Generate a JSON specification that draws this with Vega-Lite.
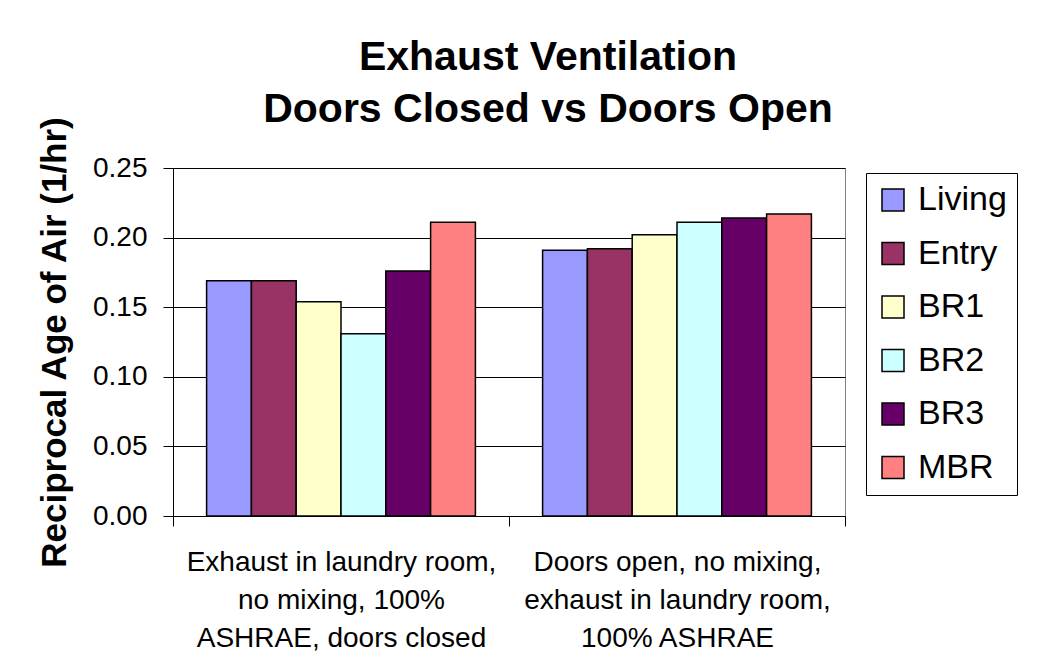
{
  "$schema": "https://vega.github.io/schema/vega-lite/v6.json",
  "width": 672,
  "height": 348,
  "autosize": {"type": "none"},
  "padding": {"left": 173, "top": 168, "right": 208, "bottom": 145},
  "background": "white",
  "title": {
    "text": ["Exhaust Ventilation", "Doors Closed vs Doors Open"],
    "font": "Liberation Sans",
    "fontSize": 41,
    "fontWeight": "bold",
    "color": "black",
    "anchor": "middle",
    "dx": 39,
    "offset": -16,
    "lineHeight": 52
  },
  "data": {
    "values": [
      {"scenario": "Exhaust in laundry room,|no mixing, 100%|ASHRAE, doors closed", "room": "Living", "value": 0.169},
      {"scenario": "Exhaust in laundry room,|no mixing, 100%|ASHRAE, doors closed", "room": "Entry", "value": 0.169},
      {"scenario": "Exhaust in laundry room,|no mixing, 100%|ASHRAE, doors closed", "room": "BR1", "value": 0.154},
      {"scenario": "Exhaust in laundry room,|no mixing, 100%|ASHRAE, doors closed", "room": "BR2", "value": 0.131},
      {"scenario": "Exhaust in laundry room,|no mixing, 100%|ASHRAE, doors closed", "room": "BR3", "value": 0.176},
      {"scenario": "Exhaust in laundry room,|no mixing, 100%|ASHRAE, doors closed", "room": "MBR", "value": 0.211},
      {"scenario": "Doors open, no mixing,|exhaust in laundry room,|100% ASHRAE", "room": "Living", "value": 0.191},
      {"scenario": "Doors open, no mixing,|exhaust in laundry room,|100% ASHRAE", "room": "Entry", "value": 0.192},
      {"scenario": "Doors open, no mixing,|exhaust in laundry room,|100% ASHRAE", "room": "BR1", "value": 0.202},
      {"scenario": "Doors open, no mixing,|exhaust in laundry room,|100% ASHRAE", "room": "BR2", "value": 0.211},
      {"scenario": "Doors open, no mixing,|exhaust in laundry room,|100% ASHRAE", "room": "BR3", "value": 0.214},
      {"scenario": "Doors open, no mixing,|exhaust in laundry room,|100% ASHRAE", "room": "MBR", "value": 0.217}
    ]
  },
  "mark": {"type": "bar", "stroke": "black", "strokeWidth": 1.5},
  "encoding": {
    "x": {
      "field": "scenario",
      "type": "nominal",
      "sort": null,
      "scale": {"paddingInner": 0, "paddingOuter": 0},
      "axis": {
        "title": null,
        "labelAngle": 0,
        "labelExpr": "datum.value ? split(datum.value, '|') : ''",
        "labelFont": "Liberation Sans",
        "labelFontSize": 28,
        "labelLineHeight": 38,
        "labelColor": "black",
        "labelPadding": 22,
        "labelBaseline": "top",
        "labelLimit": 0,
        "tickBand": "extent",
        "tickColor": "black",
        "tickSize": 10,
        "domainColor": "black",
        "domainWidth": 1
      }
    },
    "xOffset": {
      "field": "room",
      "type": "nominal",
      "sort": ["Living", "Entry", "BR1", "BR2", "BR3", "MBR"],
      "scale": {"paddingInner": 0, "paddingOuter": 0.75}
    },
    "y": {
      "field": "value",
      "type": "quantitative",
      "scale": {"domain": [0, 0.25], "nice": false},
      "axis": {
        "title": "Reciprocal Age of Air (1/hr)",
        "titleFont": "Liberation Sans",
        "titleFontSize": 35,
        "titleFontWeight": "bold",
        "titleColor": "black",
        "titlePadding": 20,
        "values": [0, 0.05, 0.1, 0.15, 0.2, 0.25],
        "format": ".2f",
        "labelFont": "Liberation Sans",
        "labelFontSize": 28,
        "labelColor": "black",
        "labelPadding": 16,
        "tickColor": "black",
        "tickSize": 10,
        "domainColor": "black",
        "grid": true,
        "gridColor": "black",
        "gridWidth": 1
      }
    },
    "color": {
      "field": "room",
      "type": "nominal",
      "sort": ["Living", "Entry", "BR1", "BR2", "BR3", "MBR"],
      "scale": {
        "domain": ["Living", "Entry", "BR1", "BR2", "BR3", "MBR"],
        "range": ["#9999FF", "#993366", "#FFFFCC", "#CCFFFF", "#660066", "#FF8080"]
      },
      "legend": {
        "title": null,
        "orient": "none",
        "legendX": 693,
        "legendY": 5,
        "strokeColor": "black",
        "fillColor": "white",
        "padding": 10,
        "symbolType": "square",
        "symbolSize": 484,
        "symbolStrokeColor": "black",
        "symbolStrokeWidth": 1.5,
        "symbolOpacity": 1,
        "labelFont": "Liberation Sans",
        "labelFontSize": 34,
        "labelColor": "black",
        "labelOffset": 8,
        "rowPadding": 19.5
      }
    }
  },
  "config": {
    "view": {"stroke": "#808080", "strokeWidth": 1},
    "axis": {"gridOpacity": 1}
  }
}
